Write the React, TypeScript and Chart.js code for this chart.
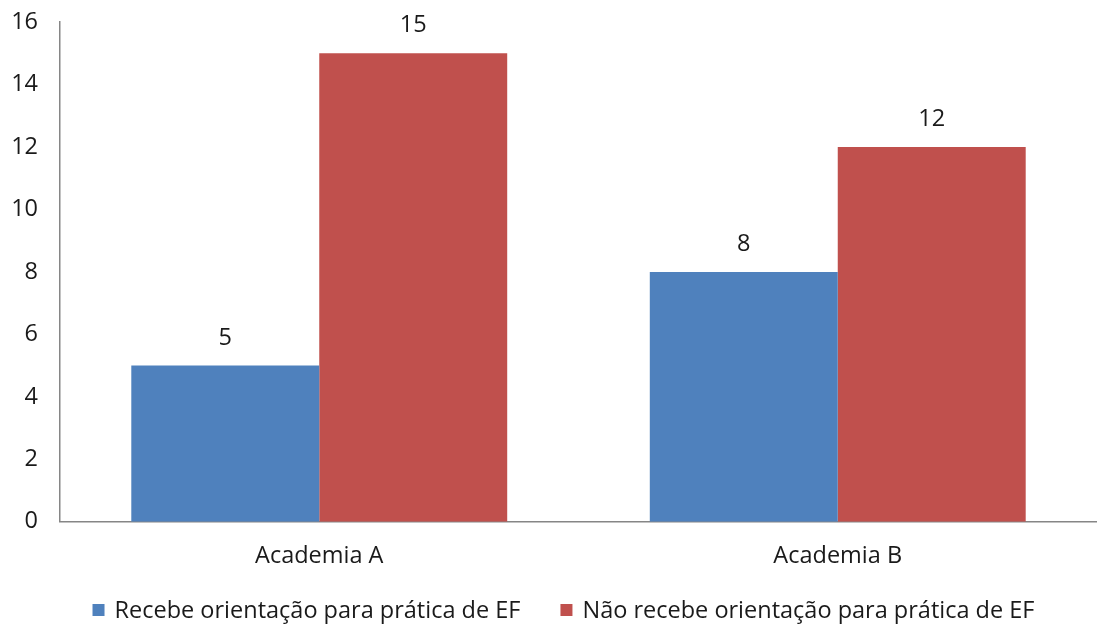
import React, { useEffect, useRef } from "react";
import { Chart, registerables } from "chart.js";

Chart.register(...registerables);

const categories = ["Academia A", "Academia B"];
const seriesNames = [
  "Recebe orientação para prática de EF",
  "Não recebe orientação para prática de EF",
];
const recebe = [5, 8];
const naoRecebe = [15, 12];
const yMin = 0;
const yMax = 16;
const yStep = 2;

const FONT = "'Open Sans', sans-serif";
const FS = 23.5;
const TEXT = "#1a1a1a";

const valueLabels = {
  id: "valueLabels",
  afterDatasetsDraw(chart: any) {
    const ctx = chart.ctx;
    ctx.save();
    ctx.font = `${FS}px ${FONT}`;
    ctx.fillStyle = TEXT;
    ctx.textAlign = "center";
    ctx.textBaseline = "alphabetic";
    chart.data.datasets.forEach((ds: any, i: number) => {
      const meta = chart.getDatasetMeta(i);
      meta.data.forEach((bar: any, j: number) => {
        ctx.fillText(String(ds.data[j]), bar.x, bar.y - 21);
      });
    });
    ctx.restore();
  },
};

const bottomLegend = {
  id: "bottomLegend",
  afterDraw(chart: any) {
    const ctx = chart.ctx;
    ctx.save();
    ctx.font = `${FS}px ${FONT}`;
    ctx.textBaseline = "middle";
    ctx.textAlign = "left";
    const box = 12;
    const gap = 10;
    const spacing = 40;
    const items = chart.data.datasets.map((ds: any) => ({
      label: ds.label,
      color: ds.backgroundColor,
      w: box + gap + ctx.measureText(ds.label).width,
    }));
    const total =
      items.reduce((s: number, it: any) => s + it.w, 0) +
      spacing * (items.length - 1);
    let x = chart.width / 2 + 15 - total / 2;
    const y = 610;
    items.forEach((it: any) => {
      ctx.fillStyle = it.color;
      ctx.fillRect(x, y - box / 2, box, box);
      ctx.fillStyle = TEXT;
      ctx.fillText(it.label, x + box + gap, y + 1);
      x += it.w + spacing;
    });
    ctx.restore();
  },
};

export default function App() {
  const ref = useRef<HTMLCanvasElement>(null);
  useEffect(() => {
    document.body.style.margin = "0";
    const chart = new Chart(ref.current!, {
      type: "bar",
      data: {
        labels: categories,
        datasets: [
          {
            label: seriesNames[0],
            data: recebe,
            backgroundColor: "#4F81BD",
            categoryPercentage: 0.725,
            barPercentage: 1,
          },
          {
            label: seriesNames[1],
            data: naoRecebe,
            backgroundColor: "#C0504D",
            categoryPercentage: 0.725,
            barPercentage: 1,
          },
        ],
      },
      options: {
        animation: false,
        responsive: false,
        maintainAspectRatio: false,
        layout: { padding: { top: 22, right: 0, left: 0, bottom: 36 } },
        plugins: {
          tooltip: { enabled: false },
          legend: { display: false },
        },
        scales: {
          x: {
            grid: { display: false, drawTicks: false },
            border: { display: true, color: "#868686", width: 1.5 },
            ticks: {
              color: TEXT,
              font: { size: FS, family: FONT },
              padding: 20,
            },
          },
          y: {
            min: yMin,
            max: yMax,
            grid: { display: false, drawTicks: false },
            border: { display: true, color: "#868686", width: 1.5 },
            ticks: {
              stepSize: yStep,
              color: TEXT,
              font: { size: FS, family: FONT },
              padding: 22,
            },
            afterFit(scale: any) {
              scale.width = 60;
              scale.paddingTop = 0;
              scale.paddingBottom = 0;
            },
          },
        },
      },
      plugins: [valueLabels, bottomLegend],
    });
    return () => chart.destroy();
  }, []);
  return (
    <div style={{ width: 1097, height: 626 }}>
      <canvas ref={ref} width={1097} height={626} />
    </div>
  );
}
